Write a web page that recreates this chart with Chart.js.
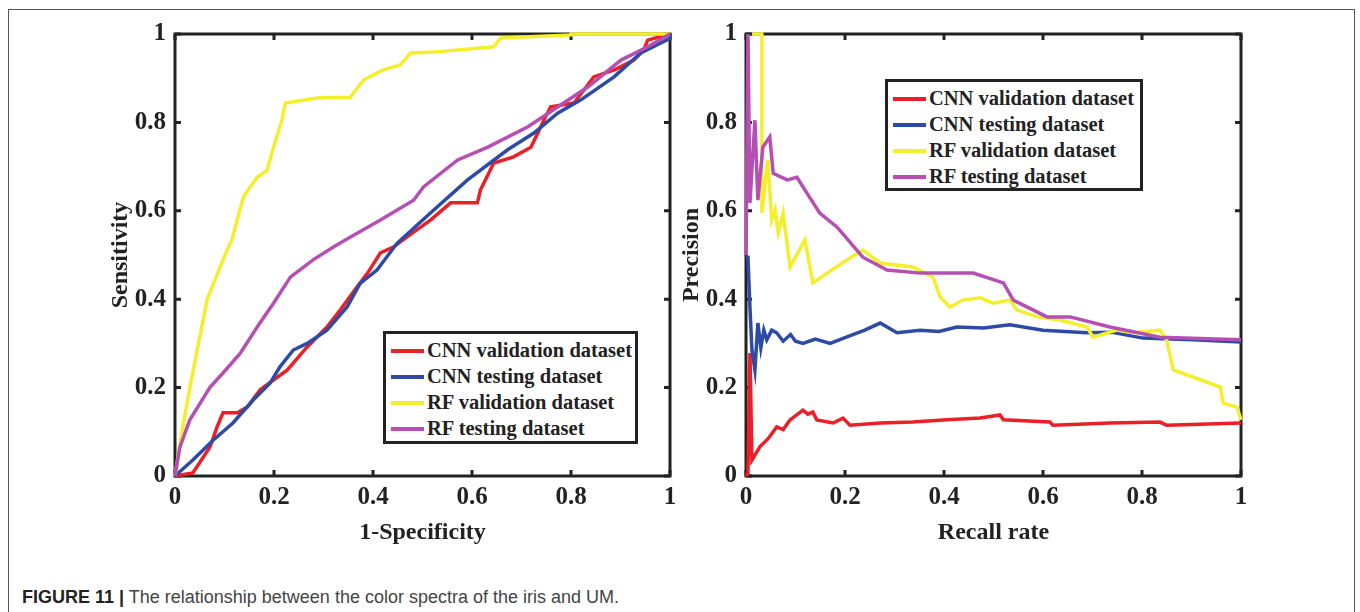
<!DOCTYPE html>
<html>
<head>
<meta charset="utf-8">
<script src="https://cdn.jsdelivr.net/npm/chart.js@4.4.1/dist/chart.umd.min.js"></script>
<style>
  body { margin: 0; background: #fff; }
  #figure { position: relative; width: 1360px; height: 612px; overflow: hidden; }
  #frame { position: absolute; left: 8px; top: 9px; width: 1347px; height: 700px; border: 1px solid #555; box-sizing: border-box; }
  canvas { position: absolute; }
  .legend {
    position: absolute; border: 3px solid #222; background: #fff; box-sizing: border-box;
    font: bold 20.5px "Liberation Serif", "Times New Roman", serif; color: #222;
    padding: 3px 0 0 5px;
  }
  .legend div { height: 26px; line-height: 26px; white-space: nowrap; }
  .legend span { display: inline-block; width: 33px; height: 4px; vertical-align: middle; margin-right: 3px; position: relative; top: -1px; }
  #caption { position: absolute; left: 22px; top: 587px; font: 18px "Liberation Sans", Arial, sans-serif; color: #444; }
  #caption b { color: #222; }
</style>
</head>
<body>
<div id="figure">
  <div id="frame"></div>
  <canvas id="roc" width="600" height="550" style="left:100px; top:10px;"></canvas>
  <canvas id="pr" width="600" height="550" style="left:671px; top:10px;"></canvas>
  <div class="legend" id="legend-roc" style="left:383px; top:331px; width:255px; height:113px;"></div>
  <div class="legend" id="legend-pr" style="left:885px; top:79px; width:258px; height:112px;"></div>
  <div id="caption"><b>FIGURE 11 |</b> The relationship between the color spectra of the iris and UM.</div>
</div>
<script>
// series names and colours (legend order)
const seriesNames = ['CNN validation dataset', 'CNN testing dataset', 'RF validation dataset', 'RF testing dataset'];
const seriesColors = ['#ec1f26', '#2c4aa6', '#f3ef2b', '#b64fb4'];

// ROC curves: [1-specificity, sensitivity]
const rocCnnVal = [[0,0],[0.036,0.007],[0.071,0.066],[0.085,0.111],[0.097,0.143],[0.126,0.143],[0.146,0.156],
  [0.172,0.195],[0.227,0.24],[0.267,0.292],[0.307,0.337],[0.334,0.376],[0.368,0.428],[0.389,0.459],[0.415,0.505],
  [0.441,0.518],[0.48,0.55],[0.516,0.579],[0.557,0.618],[0.611,0.618],[0.617,0.647],[0.644,0.708],[0.684,0.722],
  [0.719,0.744],[0.733,0.776],[0.745,0.805],[0.759,0.835],[0.806,0.844],[0.846,0.903],[0.89,0.92],[0.927,0.941],
  [0.947,0.964],[0.955,0.986],[1,1]];
const rocCnnTest = [[0,0],[0.036,0.036],[0.077,0.081],[0.117,0.12],[0.158,0.172],[0.192,0.21],[0.212,0.247],
  [0.239,0.285],[0.267,0.3],[0.307,0.33],[0.348,0.383],[0.374,0.436],[0.408,0.466],[0.449,0.527],[0.516,0.595],
  [0.591,0.67],[0.672,0.738],[0.725,0.776],[0.773,0.821],[0.82,0.851],[0.887,0.903],[0.941,0.957],[1,0.99],[1,1]];
const rocRfVal = [[0,0],[0.014,0.1],[0.03,0.2],[0.065,0.4],[0.105,0.511],[0.115,0.534],[0.138,0.631],[0.166,0.676],
  [0.186,0.692],[0.199,0.744],[0.216,0.805],[0.223,0.844],[0.287,0.855],[0.354,0.857],[0.381,0.896],[0.421,0.919],
  [0.455,0.93],[0.476,0.957],[0.522,0.959],[0.644,0.971],[0.658,0.991],[0.8,0.998],[0.8,1],[1,1]];
const rocRfTest = [[0,0],[0.01,0.066],[0.03,0.127],[0.071,0.201],[0.097,0.233],[0.132,0.278],[0.166,0.337],
  [0.199,0.391],[0.233,0.45],[0.279,0.489],[0.32,0.518],[0.344,0.534],[0.415,0.579],[0.482,0.624],[0.502,0.654],
  [0.571,0.715],[0.632,0.744],[0.713,0.79],[0.773,0.835],[0.834,0.88],[0.901,0.941],[0.955,0.971],[1,1]];

// Precision-recall curves: [recall, precision]
const prCnnVal = [[0,0],[0.004,0.007],[0.008,0.278],[0.012,0.036],[0.028,0.066],[0.045,0.085],[0.062,0.111],
  [0.075,0.105],[0.089,0.127],[0.115,0.149],[0.125,0.14],[0.135,0.145],[0.143,0.127],[0.176,0.12],[0.196,0.131],
  [0.21,0.115],[0.271,0.12],[0.337,0.122],[0.406,0.127],[0.473,0.131],[0.513,0.138],[0.52,0.127],[0.614,0.122],
  [0.62,0.115],[0.735,0.12],[0.836,0.122],[0.85,0.115],[1,0.12]];
const prCnnTest = [[0,0.495],[0.004,0.495],[0.008,0.38],[0.012,0.285],[0.018,0.24],[0.024,0.346],[0.03,0.29],
  [0.036,0.33],[0.042,0.308],[0.052,0.33],[0.062,0.324],[0.075,0.305],[0.09,0.32],[0.1,0.305],[0.115,0.3],
  [0.14,0.31],[0.17,0.3],[0.204,0.315],[0.24,0.33],[0.271,0.346],[0.305,0.324],[0.352,0.33],[0.39,0.327],
  [0.426,0.337],[0.48,0.335],[0.533,0.342],[0.6,0.33],[0.689,0.324],[0.74,0.325],[0.802,0.312],[0.903,0.308],
  [1,0.303]];
const prRfVal = [[0.012,1],[0.032,1],[0.032,0.595],[0.044,0.715],[0.052,0.579],[0.059,0.602],[0.065,0.55],
  [0.075,0.595],[0.089,0.473],[0.119,0.534],[0.135,0.437],[0.164,0.459],[0.204,0.489],[0.236,0.511],
  [0.271,0.482],[0.337,0.473],[0.378,0.45],[0.392,0.405],[0.412,0.382],[0.438,0.398],[0.473,0.403],
  [0.499,0.391],[0.533,0.398],[0.547,0.376],[0.588,0.36],[0.634,0.353],[0.689,0.337],[0.701,0.314],
  [0.749,0.33],[0.782,0.324],[0.836,0.33],[0.85,0.308],[0.863,0.24],[0.903,0.224],[0.958,0.201],
  [0.964,0.165],[0.992,0.156],[1,0.127]];
const prRfTest = [[0,0.5],[0.004,1],[0.008,0.618],[0.018,0.805],[0.024,0.624],[0.034,0.744],[0.048,0.767],
  [0.055,0.685],[0.083,0.67],[0.103,0.676],[0.123,0.64],[0.149,0.595],[0.184,0.563],[0.236,0.495],
  [0.285,0.466],[0.352,0.459],[0.432,0.459],[0.459,0.459],[0.52,0.437],[0.54,0.398],[0.608,0.36],
  [0.655,0.36],[0.735,0.337],[0.836,0.314],[1,0.308]];

// tick labels 0 .. 1 every 0.2
const tickValues = [0, 0.2, 0.4, 0.6, 0.8, 1];
const tickLabels = ['0', '0.2', '0.4', '0.6', '0.8', '1'];

const serif = '"Liberation Serif", "Times New Roman", serif';
const ink = '#222';

// box round the plot area with inward ticks on all four sides (MATLAB style)
const boxPlugin = {
    id: 'box',
    beforeDatasetsDraw(chart) {
        const { ctx, chartArea: a, scales } = chart;
        ctx.save();
        ctx.strokeStyle = ink;
        ctx.lineWidth = 3;
        ctx.strokeRect(a.left, a.top, a.right - a.left, a.bottom - a.top);
        ctx.beginPath();
        tickValues.forEach(v => {
            const x = scales.x.getPixelForValue(v);
            const y = scales.y.getPixelForValue(v);
            ctx.moveTo(x, a.bottom); ctx.lineTo(x, a.bottom - 6);
            ctx.moveTo(x, a.top); ctx.lineTo(x, a.top + 6);
            ctx.moveTo(a.left, y); ctx.lineTo(a.left + 6, y);
            ctx.moveTo(a.right, y); ctx.lineTo(a.right - 6, y);
        });
        ctx.stroke();
        ctx.restore();
    }
};

function toPoints(pairs) {
    return pairs.map(p => ({ x: p[0], y: p[1] }));
}

function makeChart(canvasId, series, xTitle, yTitle) {
    const datasets = series.map((s, i) => ({
        label: seriesNames[i],
        data: toPoints(s),
        borderColor: seriesColors[i],
        backgroundColor: seriesColors[i],
        borderWidth: 3.5,
        pointRadius: 0,
        tension: 0,
        clip: false,
        order: 4 - i
    }));
    const axis = (title, isX) => ({
        type: 'linear',
        min: 0,
        max: 1,
        afterBuildTicks: scale => { scale.ticks = tickValues.map(v => ({ value: v })); },
        afterFit: scale => { if (isX) scale.height = 84; else scale.width = 75; },
        grid: { display: false, drawTicks: false },
        border: { display: false },
        ticks: {
            color: ink,
            padding: isX ? 7 : 9,
            font: { family: serif, size: 25, weight: 'bold' },
            callback: (value, index) => tickLabels[index]
        },
        title: {
            display: true,
            text: title,
            color: ink,
            font: { family: serif, size: 24, weight: 'bold' },
            padding: isX ? { top: 0, bottom: 13 } : { top: 6, bottom: 0 }
        }
    });
    return new Chart(document.getElementById(canvasId).getContext('2d'), {
        type: 'line',
        data: { datasets },
        options: {
            responsive: false,
            animation: false,
            devicePixelRatio: 1,
            layout: { padding: { top: 24, right: 30, bottom: 0, left: 0 } },
            plugins: { legend: { display: false }, tooltip: { enabled: false } },
            scales: { x: axis(xTitle, true), y: axis(yTitle, false) }
        },
        plugins: [boxPlugin]
    });
}

function fillLegend(id) {
    const box = document.getElementById(id);
    seriesNames.forEach((name, i) => {
        box.insertAdjacentHTML('beforeend',
            `<div><span style="background:${seriesColors[i]}"></span>${name}</div>`);
    });
}

makeChart('roc', [rocCnnVal, rocCnnTest, rocRfVal, rocRfTest], '1-Specificity', 'Sensitivity');
makeChart('pr', [prCnnVal, prCnnTest, prRfVal, prRfTest], 'Recall rate', 'Precision');
fillLegend('legend-roc');
fillLegend('legend-pr');
</script>
</body>
</html>
